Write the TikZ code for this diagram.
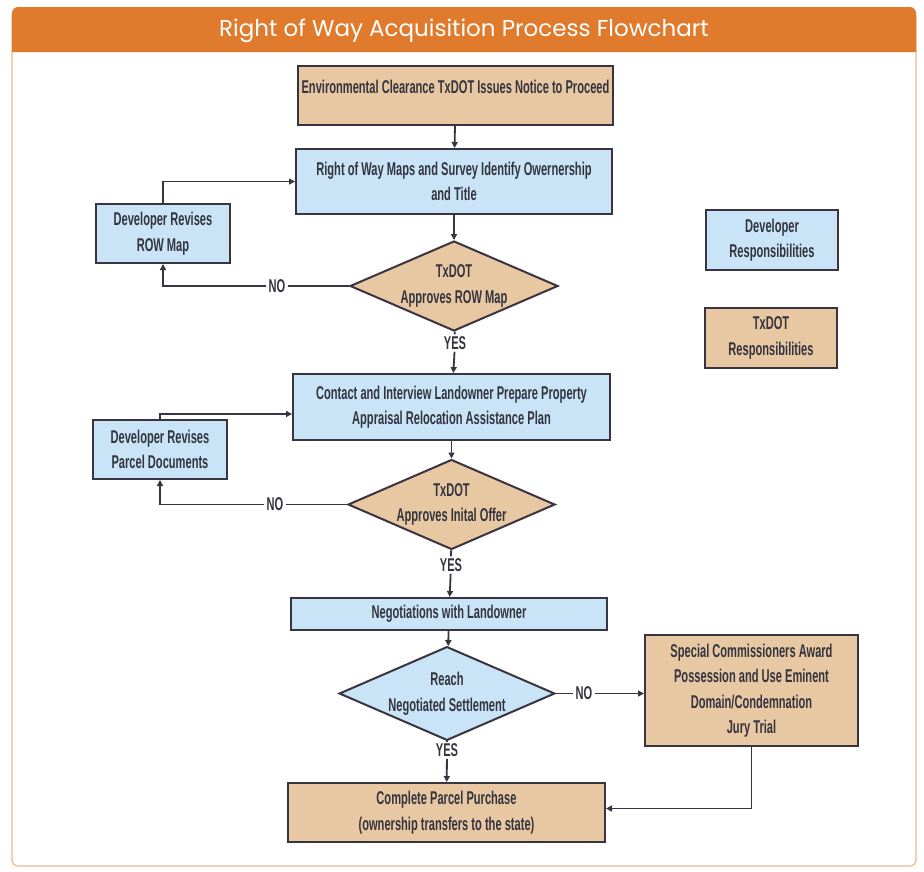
\documentclass[tikz,border=0pt]{standalone}
\usepackage{fontspec}
\setmainfont{Liberation Sans}
\newfontfamily\titlefont{Poppins}
\newfontfamily\boxfont[FakeStretch=0.6]{Liberation Sans}
\usetikzlibrary{arrows.meta,shapes.geometric}
\definecolor{devblue}{HTML}{C8E4F6}
\definecolor{txtan}{HTML}{E8C8A2}
\definecolor{hdrorange}{HTML}{E07B2E}
\definecolor{panelline}{HTML}{EDB98C}
\definecolor{edgeline}{HTML}{3A3340}
\definecolor{inkgrey}{HTML}{34343F}

\begin{document}
\begin{tikzpicture}[x=1pt,y=-1pt,
every node/.style={font=\boxfont\bfseries\fontsize{18.5}{25.5}\selectfont,text=inkgrey,align=center},
devbox/.style={rectangle,draw=edgeline,line width=2pt,fill=devblue,inner sep=0pt},
txbox/.style={rectangle,draw=edgeline,line width=2pt,fill=txtan,inner sep=0pt},
devdia/.style={diamond,draw=edgeline,line width=2pt,fill=devblue,inner sep=0pt,aspect=2.3},
txdia/.style={diamond,draw=edgeline,line width=2pt,fill=txtan,inner sep=0pt,aspect=2.3},
lbl/.style={inner sep=2pt},
conn/.style={draw=edgeline,line width=1.8pt},
arr/.style={conn,-{Triangle[length=6pt,width=6pt]}}]
\useasboundingbox (0,0) rectangle (924,871);
\fill[white] (0,0) rectangle (924,871);
% panel and title band
\draw[panelline,line width=1.2pt,rounded corners=6pt] (12,10) rectangle (916,866);
\fill[hdrorange] (12,52) {[rounded corners=6pt] -- (12,7) -- (916,7)} -- (916,52) -- cycle;
\node[font=\titlefont\fontsize{23}{27}\selectfont,text=white] (ttl) at (464,31) {Right of Way Acquisition Process Flowchart};
% boxes
\node[txbox,minimum width=315pt,minimum height=59pt,text depth=17pt] (env) at (455.5,95.5) {Environmental Clearance TxDOT Issues Notice to Proceed};
\node[devbox,minimum width=316pt,minimum height=65pt] (row) at (454,181.5) {Right of Way Maps and Survey Identify Owernership\\and Title};
\node[devbox,minimum width=134pt,minimum height=59pt] (revrow) at (163,233.5) {Developer Revises\\ROW Map};
\node[txdia,minimum width=208pt,minimum height=90pt] (dia1) at (454,286) {TxDOT\\Approves ROW Map};
\node[lbl] (yes1) at (455,343) {YES};
\node[lbl] (no1) at (277,286) {NO};
\node[devbox,minimum width=317pt,minimum height=66pt] (contact) at (451.5,407) {Contact and Interview Landowner Prepare Property\\Appraisal Relocation Assistance Plan};
\node[devbox,minimum width=134pt,minimum height=59pt] (revparcel) at (160,449.5) {Developer Revises\\Parcel Documents};
\node[txdia,minimum width=207pt,minimum height=85pt] (dia2) at (451.5,504.5) {TxDOT\\Approves Inital Offer};
\node[lbl] (yes2) at (451,565) {YES};
\node[lbl] (no2) at (275,504.5) {NO};
\node[devbox,minimum width=316pt,minimum height=32pt] (nego) at (449,614) {Negotiations with Landowner};
\node[devdia,minimum width=210pt,minimum height=85pt] (dia3) at (447,693.5) {Reach\\Negotiated Settlement};
\node[lbl] (no3) at (584,693.5) {NO};
\node[lbl] (yes3) at (447,750) {YES};
\node[txbox,minimum width=213pt,minimum height=111pt] (special) at (751.5,690.5) {Special Commissioners Award\\Possession and Use Eminent\\Domain/Condemnation\\Jury Trial};
\node[txbox,minimum width=317pt,minimum height=59pt] (purchase) at (446.5,812.5) {Complete Parcel Purchase\\(ownership transfers to the state)};
% legend
\node[devbox,minimum width=132pt,minimum height=60pt] (devresp) at (772,240) {Developer\\Responsibilities};
\node[txbox,minimum width=132pt,minimum height=60pt] (txresp) at (771,338) {TxDOT\\Responsibilities};
% connectors
\draw[arr] (env) -- (row);
\draw[arr] (row) -- (dia1);
\draw[conn] (dia1) -- (yes1);
\draw[arr] (yes1) -- (contact);
\draw[conn] (dia1.west) -- (no1);
\draw[arr] (no1) -| (revrow);
\draw[arr] (revrow) |- (row);
\draw[arr] (contact) -- (dia2);
\draw[conn] (dia2) -- (yes2);
\draw[arr] (yes2) -- (nego);
\draw[conn] (dia2.west) -- (no2);
\draw[arr] (no2) -| (revparcel);
\draw[arr] (revparcel) |- ([yshift=-7pt]contact.west);
\draw[arr] (nego) -- (dia3);
\draw[conn] (dia3.east) -- (no3);
\draw[arr] (no3) -- (special.west |- no3);
\draw[conn] (dia3) -- (yes3);
\draw[arr] (yes3) -- (purchase);
\draw[arr] (special) |- ([yshift=4pt]purchase.east);
\end{tikzpicture}
\end{document}
